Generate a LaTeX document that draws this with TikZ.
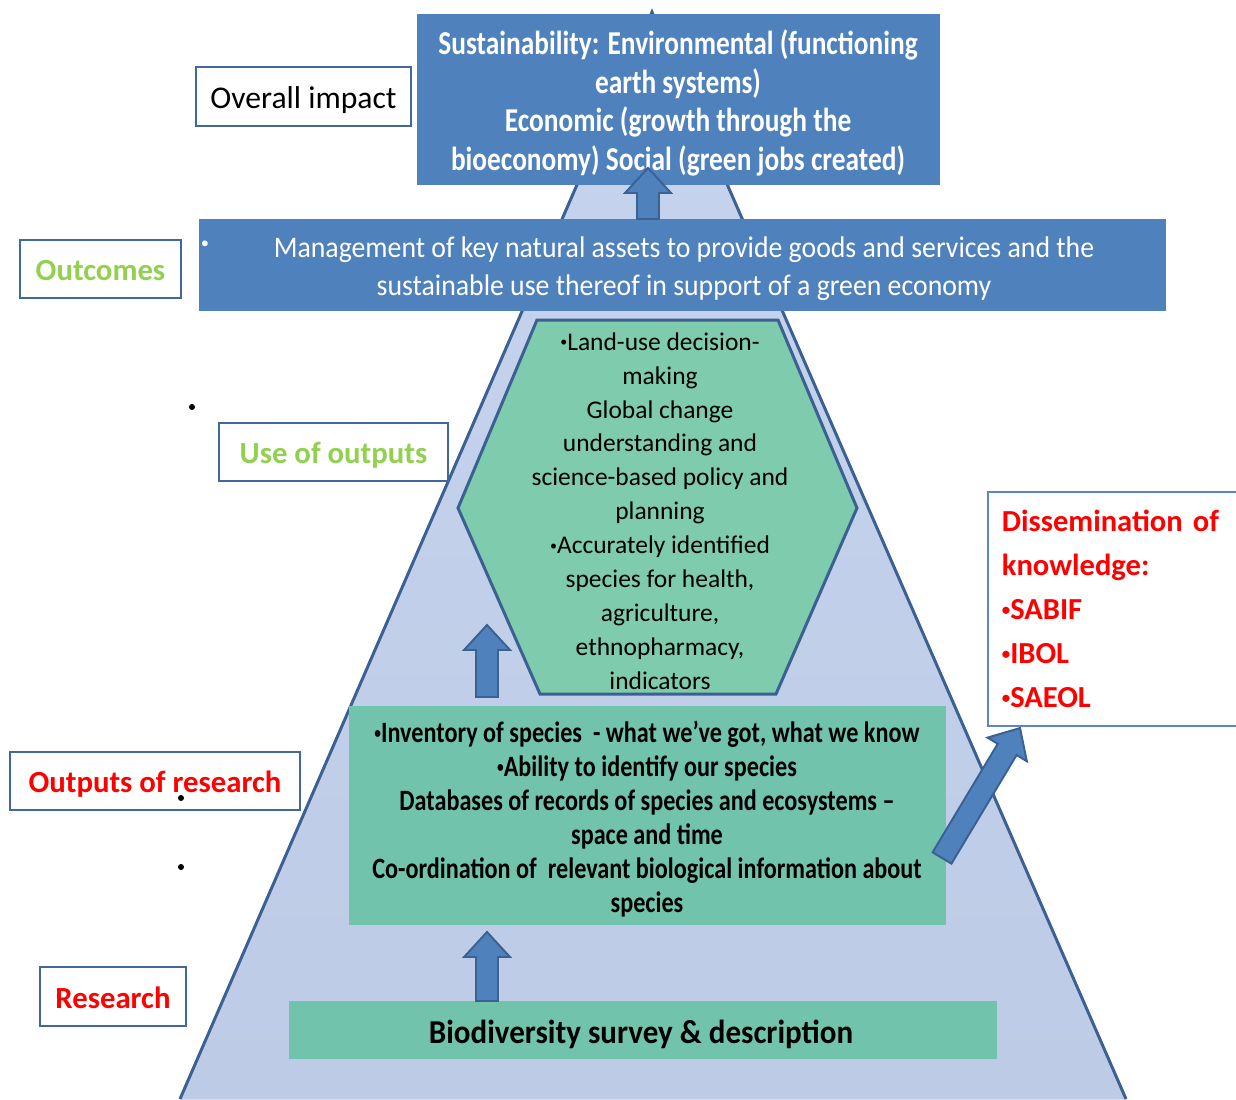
\documentclass[tikz,border=0pt]{standalone}
\usepackage{fontspec}
\usepackage{graphicx}
\setmainfont{Carlito}
\newfontfamily\narrowfont[FakeStretch=0.82]{Carlito}
\newfontfamily\slimfont[FakeStretch=0.93]{Carlito}
\usetikzlibrary{calc}

\definecolor{boxblue}{HTML}{4F81BD}
\definecolor{edgeblue}{HTML}{3A6191}
\definecolor{tagline}{HTML}{41689A}
\definecolor{dissline}{HTML}{5B88C2}
\definecolor{leafgreen}{HTML}{92D050}
\definecolor{hexgreen}{HTML}{7ECBAD}
\definecolor{rectgreen}{HTML}{72C3AB}
\definecolor{pyrtop}{HTML}{C6D4EE}
\definecolor{pyrmid}{HTML}{DDE3F2}
\definecolor{pyrbot}{HTML}{BECBE6}

\newcommand{\bul}{\raisebox{0.28ex}{\scalebox{0.55}{•}}}

\tikzset{
  tagbox/.style={draw=tagline, line width=1.1pt, fill=white, inner sep=0pt, minimum height=1.17cm, text height=13.4pt, text depth=0pt, font=\fontsize{17.5}{21}\selectfont\bfseries},
  bluebox/.style={fill=boxblue, inner sep=0pt},
  greenbox/.style={fill=rectgreen, inner sep=0pt},
  boxtext/.style={inner sep=0pt, align=center},
  arrowbox/.style={fill=boxblue, draw=edgeblue, line width=1.1pt, line join=miter},
}

\newcommand{\blockarrow}[2]{%
  \coordinate (head) at ($(#2)!0.5cm!(#1)$);
  \draw [arrowbox] ($(#1)!0.22cm!90:(#2)$) -- ($(head)!0.22cm!90:(#2)$)
    -- ($(head)!0.46cm!90:(#2)$) -- (#2) -- ($(head)!0.46cm!-90:(#2)$)
    -- ($(head)!0.22cm!-90:(#2)$) -- ($(#1)!0.22cm!-90:(#2)$) -- cycle;}

\begin{document}
\begin{tikzpicture}[x=0.02cm, y=-0.02cm]
        \useasboundingbox (0, 0) rectangle (1236, 1099);
        \clip (0, 0) rectangle (1236, 1099);

        % pyramid
        \coordinate (apex) at (652, 12);
        \coordinate (baseL) at (180, 1099);
        \coordinate (baseR) at (1126, 1099);
        \fill [top color=pyrtop, middle color=pyrmid, bottom color=pyrbot] (apex) -- (baseR) -- (baseL) -- cycle;
        \draw [edgeblue, line width=1.7pt] (baseL) -- (apex) -- (baseR);

        \node [bluebox, minimum width=10.46cm, minimum height=3.42cm] at (678.5, 99.5) (impactbox) {};
        \node [boxtext, text=white, font=\narrowfont\fontsize{19}{22.1}\selectfont\bfseries] at (678, 103) (impacttext) {Sustainability: Environmental (functioning\\earth systems)\\Economic (growth through the\\bioeconomy) Social (green jobs created)};
        \node [bluebox, minimum width=19.34cm, minimum height=1.84cm] at (682.5, 265) (outcomebox) {};
        \node [boxtext, text=white, font=\slimfont\fontsize{17}{21.8}\selectfont] at (684, 269) (outcometext) {Management of key natural assets to provide goods and services and the\\sustainable use thereof in support of a green economy};
        \node [text=white, inner sep=0pt, font=\fontsize{17}{20}\selectfont] at (205, 247) (outbullet) {\bul};

        \draw [fill=hexgreen, draw=edgeblue, line width=1.7pt] (537, 320) -- (778, 320) -- (857, 508) -- (776, 694) -- (540, 694) -- (458, 508) -- cycle;
        \node [boxtext, font=\fontsize{14.5}{19.3}\selectfont] at (660, 511) (usetext) {\bul Land-use decision-\\making\\Global change\\understanding and\\science-based policy and\\planning\\\bul Accurately identified\\species for health,\\agriculture,\\ethnopharmacy,\\indicators};

        \node [greenbox, minimum width=11.94cm, minimum height=4.38cm] at (647.5, 815.5) (outputsbox) {};
        \node [boxtext, font=\narrowfont\fontsize{16.8}{19.3}\selectfont\bfseries] at (647, 819) (outputstext) {\bul Inventory of species\ \ - what we’ve got, what we know\\\bul Ability to identify our species\\Databases of records of species and ecosystems –\\space and time\\Co-ordination of\ \ relevant biological information about\\species};
        \node [greenbox, minimum width=14.16cm, minimum height=1.16cm] at (643, 1030) (surveybox) {};
        \node [boxtext, font=\slimfont\fontsize{19}{23}\selectfont\bfseries] at (641, 1034) (surveytext) {Biodiversity survey \& description};

        \node [tagbox, minimum width=4.3cm, font=\fontsize{18}{21}\selectfont] at (303.5, 96.5) (impact) {Overall impact\hspace{0.08cm}};
        \node [tagbox, minimum width=3.22cm, text=leafgreen] at (100.5, 269) (outcomes) {Outcomes};
        \node [tagbox, minimum width=4.58cm, text=leafgreen] at (333.5, 452) (useout) {Use of outputs\hspace{0.45cm}};
        \node [tagbox, minimum width=5.8cm, text=red] at (155, 781) (resout) {Outputs of research\hspace{0.3cm}};
        \node [tagbox, minimum width=2.92cm, text=red] at (113, 996.5) (research) {Research};

        \node [draw=dissline, line width=1pt, fill=white, anchor=north west, align=left, text width=4.7cm, inner xsep=0.28cm, inner ysep=0pt, minimum height=4.68cm, text=red, font=\fontsize{17.4}{25}\selectfont\bfseries] at (987, 491) (dissem) {Dissemination of\\knowledge:\\\bul SABIF\\\bul IBOL\\\bul SAEOL};

        \fill (192, 407) circle [radius=0.06cm];
        \fill (181, 798) circle [radius=0.06cm];
        \fill (181, 867) circle [radius=0.06cm];

        \coordinate (up1s) at (648, 219);
        \coordinate (up1e) at (648, 168);
        \coordinate (up2s) at (487, 697);
        \coordinate (up2e) at (487, 625);
        \coordinate (up3s) at (487, 1001);
        \coordinate (up3e) at (487, 932);
        \coordinate (outs) at (942, 858);
        \coordinate (oute) at (1020, 728);
        \blockarrow{up1s}{up1e}
        \blockarrow{up2s}{up2e}
        \blockarrow{up3s}{up3e}
        \blockarrow{outs}{oute}
\end{tikzpicture}
\end{document}
